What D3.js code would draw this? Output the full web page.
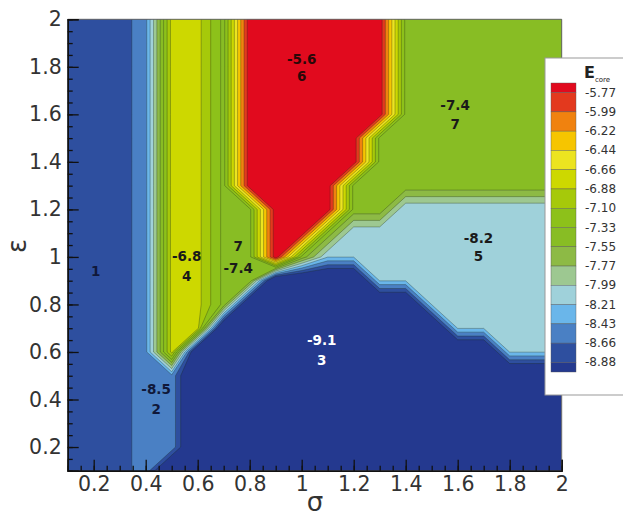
<!DOCTYPE html>
<html><head><meta charset="utf-8">
<script src="https://cdn.jsdelivr.net/npm/d3@7"></script>
<style>body{margin:0;background:#fff}svg{display:block}</style>
</head><body>
<svg id="chart" width="623" height="518"></svg>
<script>
// ---------- data ----------
const sigma   = [0.1,0.2,0.3,0.4,0.5,0.6,0.7,0.8,0.9,1.0,1.1,1.2,1.3,1.4,1.5,1.6,1.7,1.8,1.9,2.0];
const epsilon = [0.1,0.2,0.3,0.4,0.5,0.6,0.7,0.8,0.9,1.0,1.1,1.2,1.3,1.4,1.5,1.6,1.7,1.8,1.9,2.0];
// energy of each region (grid node value)
const regionValue = {"1": -8.8, "2": -8.5, "3": -9.6, "4": -6.8, "5": -8.2, "6": -5.6, "7": -7.4};
// region code per grid node; rows from eps = 2.0 (top) down to eps = 0.1, columns sigma 0.1 .. 2.0
const gridRows = [
  "11124476666667777777", // 2.0
  "11124476666667777777", // 1.9
  "11124476666667777777", // 1.8
  "11124476666667777777", // 1.7
  "11124476666667777777", // 1.6
  "11124476666677777777", // 1.5
  "11124476666677777777", // 1.4
  "11124476666777777777", // 1.3
  "11124477666775555555", // 1.2
  "11124477667555555555", // 1.1
  "11124477675555555555", // 1.0
  "11124477333355555555", // 0.9
  "11124473333333555555", // 0.8
  "11124433333333355555", // 0.7
  "11124333333333333555", // 0.6
  "11122333333333333333", // 0.5
  "11122333333333333333", // 0.4
  "11122333333333333333", // 0.3
  "11122333333333333333", // 0.2
  "11123333333333333333"  // 0.1
];
// contour levels (legend), ascending
const levels = [-8.88,-8.66,-8.43,-8.21,-7.99,-7.77,-7.55,-7.33,-7.10,-6.88,-6.66,-6.44,-6.22,-5.99,-5.77];
// band colours from lowest band (< -8.88) to highest (> -5.77)
const bandColors = ["#24398f","#2e4f9f","#4a80c4","#6ab6ea","#9fd1da","#9dc891","#8dba45","#88bd24",
                    "#8dc11a","#a6c90a","#cdd800","#ece420","#f6c500","#f0820f","#e3391e","#e10a1e"];
const xTicks = [0.2,0.4,0.6,0.8,1,1.2,1.4,1.6,1.8,2];
const yTicks = [0.2,0.4,0.6,0.8,1,1.2,1.4,1.6,1.8,2];
const minorTicks = d3.range(2, 41).map(k => k / 20);
// region annotations (in sigma / epsilon coordinates)
const annotations = [
  {s:0.208, e:0.939, t:"1",    c:"#10183a"},
  {s:0.44,  e:0.443, t:"-8.5", c:"#10183a"},
  {s:0.44,  e:0.359, t:"2",    c:"#10183a"},
  {s:0.558, e:1.002, t:"-6.8", c:"#1a1a1a"},
  {s:0.558, e:0.920, t:"4",    c:"#1a1a1a"},
  {s:0.756, e:1.044, t:"7",    c:"#1a1a1a"},
  {s:0.756, e:0.953, t:"-7.4", c:"#1a1a1a"},
  {s:1.0,   e:1.834, t:"-5.6", c:"#2a0808"},
  {s:1.0,   e:1.763, t:"6",    c:"#2a0808"},
  {s:1.59,  e:1.640, t:"-7.4", c:"#1a1a1a"},
  {s:1.59,  e:1.560, t:"7",    c:"#1a1a1a"},
  {s:1.68,  e:1.079, t:"-8.2", c:"#1a1a1a"},
  {s:1.68,  e:1.002, t:"5",    c:"#1a1a1a"},
  {s:1.077, e:0.651, t:"-9.1", c:"#ffffff"},
  {s:1.077, e:0.567, t:"3",    c:"#ffffff"}
];

// ---------- layout ----------
const svg = d3.select("#chart");
const X0 = 67.7, X1 = 561.7, Y0 = 19.3, Y1 = 470.8;
const x = d3.scaleLinear().domain([0.1, 2.0]).range([X0, X1]);
const y = d3.scaleLinear().domain([0.1, 2.0]).range([Y1, Y0]);
const font = "'DejaVu Sans', 'Liberation Sans', sans-serif";

// grid values (row j = epsilon[j])
const n = sigma.length, m = epsilon.length;
const values = [];
for (let j = 0; j < m; j++) {
  const row = gridRows[m - 1 - j];
  for (let i = 0; i < n; i++) values.push(regionValue[row[i]]);
}
const contours = d3.contours().size([n, m]).thresholds(levels)(values);
const gx = d3.scaleLinear().domain([0.5, n - 0.5]).range([sigma[0], sigma[n - 1]]);
const gy = d3.scaleLinear().domain([0.5, m - 0.5]).range([epsilon[0], epsilon[m - 1]]);
const proj = d3.geoTransform({point(px, py) { this.stream.point(x(gx(px)), y(gy(py))); }});
const path = d3.geoPath(proj);

svg.append("clipPath").attr("id", "plotclip").append("rect")
  .attr("x", X0).attr("y", Y0).attr("width", X1 - X0).attr("height", Y1 - Y0);

const plot = svg.append("g").attr("clip-path", "url(#plotclip)");
plot.append("rect").attr("x", X0).attr("y", Y0).attr("width", X1 - X0).attr("height", Y1 - Y0)
  .attr("fill", bandColors[0]);
plot.selectAll("path.band").data(contours).join("path").attr("class", "band")
  .attr("d", path)
  .attr("fill", (d, k) => bandColors[k + 1])
  .attr("stroke", "#1e2a1a").attr("stroke-opacity", 0.45).attr("stroke-width", 0.7)
  .attr("stroke-linejoin", "round");

// annotations
svg.append("g").selectAll("text").data(annotations).join("text")
  .attr("x", d => x(d.s)).attr("y", d => y(d.e))
  .attr("text-anchor", "middle").attr("dominant-baseline", "central")
  .attr("font-family", font).attr("font-weight", "bold").attr("font-size", 13.5)
  .attr("fill", d => d.c).text(d => d.t);

// frame
svg.append("line").attr("x1", X0).attr("x2", X1).attr("y1", Y0).attr("y2", Y0).attr("stroke", "#666").attr("stroke-width", 1);
svg.append("line").attr("x1", X1).attr("x2", X1).attr("y1", Y0).attr("y2", Y1).attr("stroke", "#666").attr("stroke-width", 1);

// axes
const xAxis = svg.append("g").attr("transform", `translate(0,${Y1})`)
  .call(d3.axisBottom(x).tickValues(xTicks).tickFormat(d3.format("")).tickSize(-11).tickPadding(6));
const yAxis = svg.append("g").attr("transform", `translate(${X0},0)`)
  .call(d3.axisLeft(y).tickValues(yTicks).tickFormat(d3.format("")).tickSize(-11).tickPadding(6));
svg.append("g").attr("transform", `translate(0,${Y1})`)
  .call(d3.axisBottom(x).tickValues(minorTicks).tickFormat("").tickSize(-5).tickSizeOuter(0));
svg.append("g").attr("transform", `translate(${X0},0)`)
  .call(d3.axisLeft(y).tickValues(minorTicks).tickFormat("").tickSize(-5).tickSizeOuter(0));
svg.selectAll(".domain").attr("stroke", "#111").attr("stroke-width", 1.4);
svg.selectAll(".tick line").attr("stroke", "#111").attr("stroke-width", 1.3);
[xAxis, yAxis].forEach(a => a.selectAll("text")
  .attr("font-family", font).attr("font-size", 20.5).attr("fill", "#333"));

// axis titles
svg.append("text").attr("x", 315).attr("y", 511).attr("text-anchor", "middle")
  .attr("font-family", font).attr("font-size", 26).attr("fill", "#333").text("σ");
svg.append("text").attr("transform", "translate(26,246) rotate(-90)").attr("text-anchor", "middle")
  .attr("font-family", font).attr("font-size", 26).attr("fill", "#333").text("ε");

// legend
const lg = svg.append("g");
lg.append("rect").attr("x", 545).attr("y", 58).attr("width", 100).attr("height", 337)
  .attr("fill", "#fff").attr("stroke", "#999").attr("stroke-width", 1);
const title = lg.append("text").attr("x", 584).attr("y", 78)
  .attr("font-family", font).attr("font-weight", "bold").attr("font-size", 16).attr("fill", "#222");
title.append("tspan").text("E");
title.append("tspan").attr("font-size", 7).attr("font-weight", "normal").attr("dy", 4).text("core");
const levelsDesc = levels.slice().reverse();
const ly = d3.scalePoint().domain(levelsDesc).range([92.6, 362.4]);
const colorsDesc = bandColors.slice().reverse();
const bandTops = [83].concat(levelsDesc.map(v => ly(v)));
const bandBottoms = levelsDesc.map(v => ly(v)).concat([372]);
lg.selectAll("rect.sw").data(colorsDesc).join("rect").attr("class", "sw")
  .attr("x", 551).attr("width", 25)
  .attr("y", (d, k) => bandTops[k]).attr("height", (d, k) => bandBottoms[k] - bandTops[k])
  .attr("fill", d => d).attr("stroke", "#555").attr("stroke-width", 0.4);
lg.selectAll("text.lab").data(levelsDesc).join("text").attr("class", "lab")
  .attr("x", 585).attr("y", d => ly(d)).attr("dominant-baseline", "central")
  .attr("font-family", font).attr("font-size", 12).attr("fill", "#333")
  .text(d => d.toFixed(2));
</script>
</body></html>
